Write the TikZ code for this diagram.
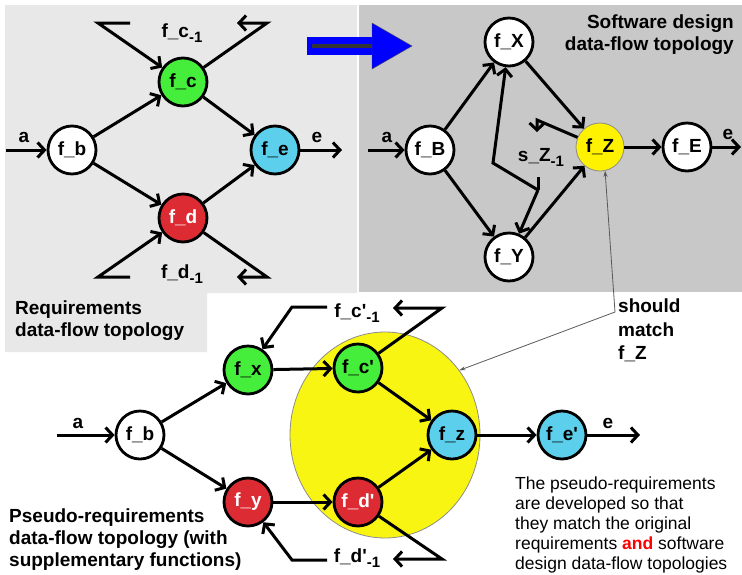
\documentclass[tikz,border=0pt]{standalone}
\usepackage{fontspec}
\setmainfont{Liberation Sans}
\usetikzlibrary{arrows.meta,shapes.geometric}
\definecolor{fgreen}{HTML}{44EE3A}
\definecolor{fred}{HTML}{DD2B33}
\definecolor{fblue}{HTML}{5BCFEC}
\definecolor{fyellow}{HTML}{F9F513}
\definecolor{panelA}{HTML}{E8E8E8}
\definecolor{panelB}{HTML}{C8C8C8}
\newcommand{\prevsub}[1]{\raisebox{-5pt}{\fontsize{15}{15}\selectfont #1}}
\newcommand{\tick}{\textquotesingle}
\begin{document}
\begin{tikzpicture}[x=1pt,y=-1pt,
    fn/.style={circle, draw, line width=2.8pt, minimum size=48pt, inner sep=0pt,
        font=\bfseries\fontsize{19}{22}\selectfont},
    flow/.style={line width=3pt, -{Straight Barb[length=7pt,width=15pt]}},
    wire/.style={line width=3pt},
    lbl/.style={inner sep=0pt, font=\bfseries\fontsize{19}{22}\selectfont},
    hint/.style={line width=0.8pt, black!65, {Stealth[length=6pt,width=4pt]}-{Stealth[length=6pt,width=4pt]}}]
        \useasboundingbox (0,0) rectangle (742,574);
        \fill[panelA] (5,5) -- (357,5) -- (357,293) -- (207,293) -- (207,352) -- (5,352) -- cycle;
        \fill[panelB] (359,5) rectangle (742,292);
        \node [ellipse, fill=fyellow, draw=black!45, line width=0.8pt, minimum width=190pt,
            minimum height=206pt, inner sep=0pt] (zone) at (385,435) {};

        \fill [blue] (307,37) rectangle (373,55);
        \draw [line width=4pt, black!80] (312,46) -- (373,46);
        \draw [fill=blue, draw=black!70, thin] (372,23) -- (412,46) -- (372,69) -- cycle;

        \node [fn, fill=white] (fb) at (72,150) {f\_b};
        \node [fn, fill=fgreen] (fc) at (183,82) {f\_c};
        \node [fn, fill=fred, text=white] (fd) at (183,218) {f\_d};
        \node [fn, fill=fblue] (fe) at (275,150) {f\_e};
        \coordinate (ain) at (6,150);
        \coordinate (eout) at (342,150);
        \draw [flow] (ain) -- (fb);
        \draw [flow] (fb) -- (fc);
        \draw [flow] (fb) -- (fd);
        \draw [flow] (fc) -- (fe);
        \draw [flow] (fd) -- (fe);
        \draw [flow] (fe) -- (eout);
        \node [lbl] (la) at (24,137) {a};
        \node [lbl] (le) at (317,137) {e};
        \coordinate (cin) at (130,23);
        \coordinate (cout) at (237,23);
        \draw [flow] (cin) -- (98,23) -- (fc);
        \draw [flow] (fc) -- (267,23) -- (cout);
        \node [lbl] (lc) at (182,33) {f\_c\prevsub{-1}};
        \coordinate (din) at (130,277);
        \coordinate (dout) at (237,277);
        \draw [flow] (din) -- (98,277) -- (fd);
        \draw [flow] (fd) -- (267,277) -- (dout);
        \node [lbl] (ld) at (182,274) {f\_d\prevsub{-1}};
        \node [lbl, align=left, anchor=north west] (req) at (15,301)
            {Requirements\\data-flow topology};

        \node [fn, fill=white] (fB) at (430,150) {f\_B};
        \node [fn, fill=white] (fX) at (509,42) {f\_X};
        \node [fn, fill=white] (fY) at (509,257) {f\_Y};
        \node [fn, fill=yellow, draw=black!45, line width=0.8pt] (fZ) at (600,147) {f\_Z};
        \node [fn, fill=white] (fE) at (687,147) {f\_E};
        \coordinate (ain2) at (368,150);
        \coordinate (eout2) at (741,147);
        \draw [flow] (ain2) -- (fB);
        \draw [flow] (fB) -- (fX);
        \draw [flow] (fB) -- (fY);
        \draw [flow] (fX) -- (fZ);
        \draw [flow] (fY) -- (fZ);
        \draw [flow] (fZ) -- (fE);
        \draw [flow] (fE) -- (eout2);
        \node [lbl] (la2) at (387,137) {a};
        \node [lbl] (le2) at (728,134) {e};
        \coordinate (szout) at (537,132);
        \coordinate (szin) at (538,177);
        \coordinate (szsplit) at (538,190);
        \draw [flow] (fZ) -- (537,120) -- (szout);
        \draw [wire] (szin) -- (szsplit);
        \draw [flow] (szsplit) -- (fY);
        \draw [flow] (szsplit) -- (493,163) -- (fX);
        \node [lbl] (lsz) at (541,157) {s\_Z\prevsub{-1}};
        \node [lbl, align=right, anchor=north east] (sw) at (734,15)
            {Software design\\data-flow topology};

        \node [lbl, align=left, anchor=north west, font=\bfseries\fontsize{19}{23.5}\selectfont]
            (match) at (618,299) {should\\match\\f\_Z};
        \draw [hint] (fZ.-78) -- (615,312) -- (zone.41);

        \node [fn, fill=white] (fb2) at (140,435) {f\_b};
        \node [fn, fill=fgreen] (fx) at (248,370) {f\_x};
        \node [fn, fill=fred, text=white] (fy) at (248,502) {f\_y};
        \node [fn, fill=fgreen] (fcp) at (358,368) {f\_c\tick};
        \node [fn, fill=fred, text=white] (fdp) at (358,502) {f\_d\tick};
        \node [fn, fill=fblue] (fz) at (452,435) {f\_z};
        \node [fn, fill=fblue] (fep) at (562,435) {f\_e\tick};
        \coordinate (ain3) at (57,435);
        \coordinate (eout3) at (640,435);
        \draw [flow] (ain3) -- (fb2);
        \draw [flow] (fb2) -- (fx);
        \draw [flow] (fb2) -- (fy);
        \draw [flow] (fx) -- (fcp);
        \draw [flow] (fy) -- (fdp);
        \draw [flow] (fcp) -- (fz);
        \draw [flow] (fdp) -- (fz);
        \draw [flow] (fz) -- (fep);
        \draw [flow] (fep) -- (eout3);
        \node [lbl] (la3) at (78,423) {a};
        \node [lbl] (le3) at (608,423) {e};
        \coordinate (cpin) at (327,307);
        \coordinate (cpout) at (393,308);
        \draw [flow] (cpin) -- (292,307) -- (fx);
        \draw [flow] (fcp) -- (442,308) -- (cpout);
        \node [lbl] (lcp) at (357,313) {f\_c\tick\prevsub{-1}};
        \coordinate (dpin) at (327,560);
        \coordinate (dpout) at (393,559);
        \draw [flow] (dpin) -- (292,560) -- (fy);
        \draw [flow] (fdp) -- (442,559) -- (dpout);
        \node [lbl] (ldp) at (357,558) {f\_d\tick\prevsub{-1}};
        \node [lbl, align=left, anchor=north west] (pseudo) at (9,509)
            {Pseudo-requirements\\data-flow topology (with\\supplementary functions)};
        \node [inner sep=0pt, align=left, anchor=north west, font=\fontsize{17.5}{20}\selectfont]
            (note) at (515,477) {The pseudo-requirements\\are developed so that\\they match the original\\requirements \textcolor{red}{\bfseries and} software\\design data-flow topologies};
    \end{tikzpicture}
\end{document}
